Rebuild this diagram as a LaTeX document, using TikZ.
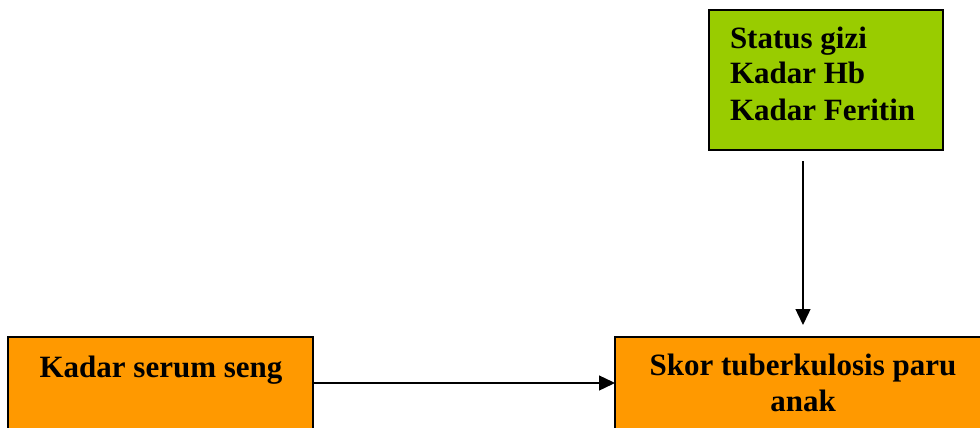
\documentclass[tikz,border=0pt]{standalone}
\usepackage{fontspec}
\setmainfont{Liberation Serif}
\usetikzlibrary{arrows.meta}
\definecolor{boxgreen}{HTML}{99CC00}
\definecolor{boxorange}{HTML}{FF9900}
\tikzset{
  box/.style={draw=black, line width=1.5pt, inner sep=0pt, outer sep=0pt, rectangle},
  lbl/.style={font=\fontsize{31}{36}\selectfont\bfseries, inner sep=0pt, outer sep=0pt},
  arr/.style={line width=1.4pt, -{Triangle[length=16pt,width=15pt]}}
}
\begin{document}
\begin{tikzpicture}[x=1pt,y=-1pt]
\useasboundingbox (0,0) rectangle (980,428);
\clip (0,0) rectangle (980,428);
\fill[white] (0,0) rectangle (980,428);

% factor boxes
\node[box, fill=boxgreen, minimum width=234pt, minimum height=140pt] (gbox) at (826,80) {};
\node[box, fill=boxorange, minimum width=305pt, minimum height=143pt] (lbox) at (160.5,408.5) {};
\node[box, fill=boxorange, minimum width=385pt, minimum height=143pt] (rbox) at (807.5,408.5) {};

% labels (base anchor sits on the last line)
\node[lbl, anchor=base west, align=left] (gtext) at (730,120) {Status gizi\\Kadar Hb\\Kadar Feritin};
\node[lbl, anchor=base] (ltext) at (161,377) {Kadar serum seng};
\node[lbl, anchor=base, align=center] (rtext) at (803,411) {Skor tuberkulosis paru\\anak};

% connectors
\coordinate (vt) at ([xshift=-23pt,yshift=-11pt]gbox.south);
\draw[arr] (vt) -- ([yshift=12pt]vt |- rbox.north);
\draw[arr] ([yshift=-46pt]lbox.north east) -- ([yshift=-46pt]rbox.north west);
\end{tikzpicture}
\end{document}
